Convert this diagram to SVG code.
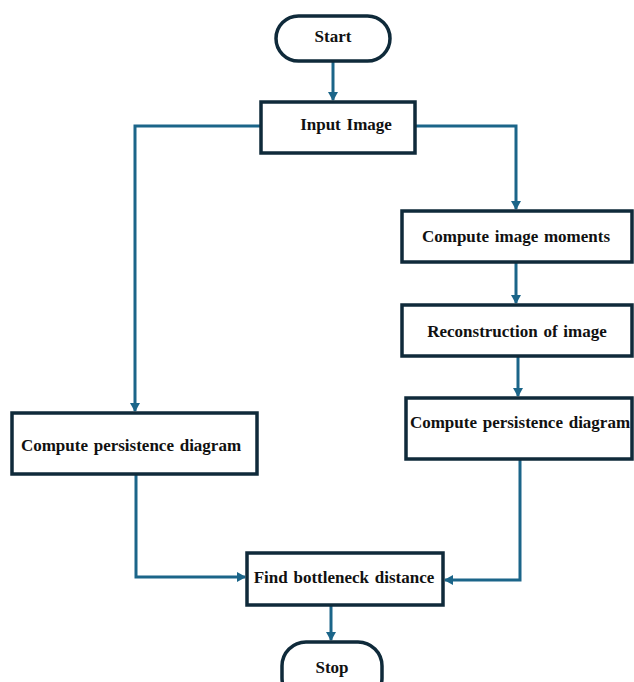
<svg xmlns="http://www.w3.org/2000/svg" width="634" height="682" viewBox="0 0 634 682">
<defs>
<marker id="ah" markerWidth="10" markerHeight="10" refX="8" refY="5" orient="auto" markerUnits="userSpaceOnUse">
<path d="M0,0 L9,5 L0,10 Z" fill="#1b6589"/>
</marker>
<style>
.box{fill:#ffffff;stroke:#0f2a3a;stroke-width:3.5}
.t{font-family:"Liberation Serif","Times New Roman",serif;font-weight:bold;font-size:17px;word-spacing:1.5px;fill:#111111}
.c{fill:none;stroke:#1b6589;stroke-width:3;marker-end:url(#ah)}
</style>
</defs>
<rect width="634" height="682" fill="#ffffff"/>
<g id="connectors">
<path class="c" d="M333,61 L333,100"/>
<path class="c" d="M261,126 L135,126 L135,411"/>
<path class="c" d="M415,126 L516,126 L516,209"/>
<path class="c" d="M516,262 L516,303"/>
<path class="c" d="M518,356 L518,396"/>
<path class="c" d="M136,474 L136,577 L245,577"/>
<path class="c" d="M520,459 L520,580 L445,580"/>
<path class="c" d="M331,605 L331,640"/>
</g>
<g id="start">
<rect class="box" x="276" y="16" width="114" height="45" rx="22.5"/>
<text class="t" x="333" y="42" text-anchor="middle">Start</text>
</g>
<g id="input">
<rect class="box" x="261" y="102" width="154" height="51"/>
<text class="t" x="346" y="130" text-anchor="middle">Input Image</text>
</g>
<g id="moments">
<rect class="box" x="402" y="211" width="230" height="51"/>
<text class="t" x="516" y="242" text-anchor="middle">Compute image moments</text>
</g>
<g id="reconstruction">
<rect class="box" x="402" y="305" width="230" height="51"/>
<text class="t" x="517" y="337" text-anchor="middle">Reconstruction of image</text>
</g>
<g id="pd_right">
<rect class="box" x="406" y="398" width="226" height="61"/>
<text class="t" x="520" y="428" text-anchor="middle">Compute persistence diagram</text>
</g>
<g id="pd_left">
<rect class="box" x="12" y="413" width="245" height="61"/>
<text class="t" x="131" y="451" text-anchor="middle">Compute persistence diagram</text>
</g>
<g id="bottleneck">
<rect class="box" x="247" y="553" width="196" height="52"/>
<text class="t" x="344" y="583" text-anchor="middle">Find bottleneck distance</text>
</g>
<g id="stop">
<rect class="box" x="282" y="642" width="100" height="60" rx="24"/>
<text class="t" x="332" y="673" text-anchor="middle">Stop</text>
</g>
</svg>
